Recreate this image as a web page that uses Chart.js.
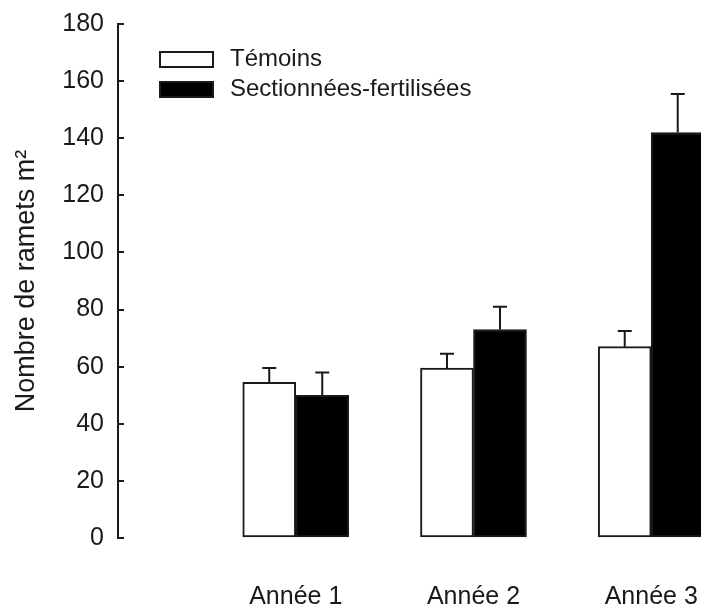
<!DOCTYPE html>
<html>
<head>
<meta charset="utf-8">
<script src="https://cdn.jsdelivr.net/npm/chart.js@4"></script>
<style>
  html, body { margin: 0; padding: 0; background: #fff; }
  #wrap { width: 701px; height: 612px; }
</style>
</head>
<body>
<div id="wrap"><canvas id="ramets"></canvas></div>
<script>
var years = ["Année 1", "Année 2", "Année 3"];
var yearPos = [1, 2, 3];
var temoins = [54.5, 59.5, 67];
var temoinsErr = [5, 5, 5.5];
var sectionnees = [50, 73, 142];
var sectionneesErr = [8, 8, 13.5];
var seriesNames = ["Témoins", "Sectionnées-fertilisées"];
var seriesColors = ["#ffffff", "#000000"];

var ink = "#1a1a1a";
Chart.defaults.font.family = "'Liberation Sans', Arial, sans-serif";
Chart.defaults.color = ink;

function points(vals) {
  return vals.map(function (v, i) { return { x: yearPos[i], y: v }; });
}

// upper-only error bars, SigmaPlot style
var errorBars = {
  id: "errorBars",
  afterDatasetsDraw: function (chart) {
    var ctx = chart.ctx, y = chart.scales.y;
    var errs = [temoinsErr, sectionneesErr];
    ctx.save();
    ctx.strokeStyle = ink;
    ctx.lineWidth = 2;
    chart.data.datasets.forEach(function (ds, di) {
      chart.getDatasetMeta(di).data.forEach(function (bar, i) {
        var top = y.getPixelForValue(ds.data[i].y + errs[di][i]);
        ctx.beginPath();
        ctx.moveTo(bar.x, bar.y);
        ctx.lineTo(bar.x, top);
        ctx.moveTo(bar.x - 7, top);
        ctx.lineTo(bar.x + 7, top);
        ctx.stroke();
      });
    });
    ctx.restore();
  }
};

// legend drawn inside the plot, top left
var keyBox = {
  id: "keyBox",
  afterDraw: function (chart) {
    var ctx = chart.ctx;
    ctx.save();
    ctx.font = "24px 'Liberation Sans', Arial, sans-serif";
    ctx.textBaseline = "middle";
    chart.data.datasets.forEach(function (ds, i) {
      var cy = 59.5 + i * 30;
      ctx.fillStyle = ds.backgroundColor;
      ctx.fillRect(160, cy - 7.5, 53, 15);
      ctx.lineWidth = 2;
      ctx.strokeStyle = ink;
      ctx.strokeRect(160, cy - 7.5, 53, 15);
      ctx.fillStyle = ink;
      ctx.fillText(ds.label, 230, cy);
    });
    ctx.restore();
  }
};

new Chart("ramets", {
  type: "bar",
  data: {
    datasets: [
      {
        label: seriesNames[0],
        data: points(temoins),
        backgroundColor: seriesColors[0],
      },
      {
        label: seriesNames[1],
        data: points(sectionnees),
        backgroundColor: seriesColors[1],
      },
    ],
  },
  options: {
    responsive: true,
    maintainAspectRatio: false,
    animation: false,
    layout: { padding: { top: 24, right: 0, bottom: 0, left: 0 } },
    datasets: {
      bar: {
        barThickness: 53,
        borderWidth: 2,
        borderColor: ink,
        borderSkipped: false,
      },
    },
    plugins: {
      legend: { display: false },
      tooltip: { enabled: false },
    },
    scales: {
      x: {
        type: "linear",
        offset: false,
        min: 0,
        max: 3.28,
        grid: { display: false, drawTicks: false },
        border: { display: false },
        ticks: {
          stepSize: 1,
          includeBounds: false,
          autoSkip: false,
          maxRotation: 0,
          padding: 44,
          font: { size: 25 },
          callback: function (v) {
            var k = yearPos.indexOf(v);
            return k < 0 ? "" : years[k];
          },
        },
        afterFit: function (s) {
          s.height = 74;
          s.paddingLeft = 0;
          s.paddingRight = 0;
        },
      },
      y: {
        min: 0,
        max: 180,
        ticks: { stepSize: 20, padding: 20, font: { size: 25 } },
        grid: {
          drawOnChartArea: false,
          tickLength: -6,
          color: ink,
          lineWidth: 2,
        },
        border: { display: true, color: ink, width: 2 },
        title: {
          display: true,
          text: "Nombre de ramets m²",
          font: { size: 27 },
          padding: { top: 10, bottom: 0 },
        },
        afterFit: function (s) {
          s.width = 118;
          s.paddingTop = 0;
          s.paddingBottom = 0;
        },
      },
    },
  },
  plugins: [errorBars, keyBox],
});
</script>
</body>
</html>
